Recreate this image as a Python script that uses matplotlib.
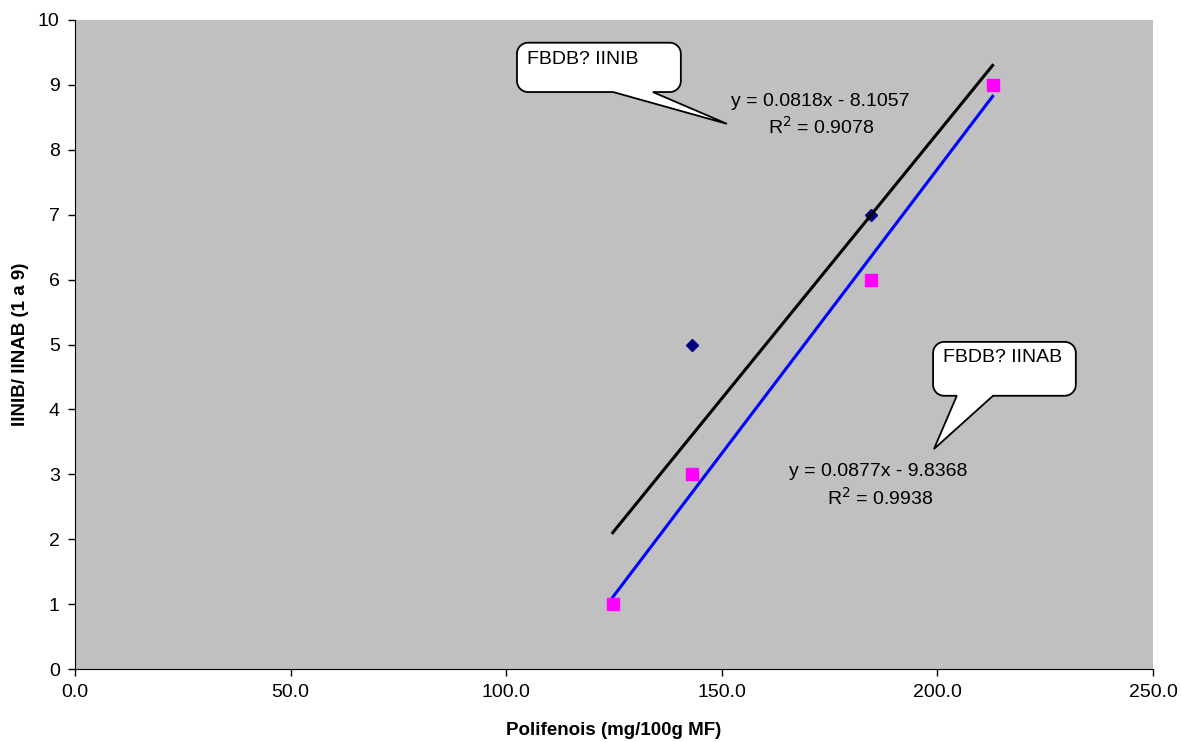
import matplotlib
matplotlib.use("Agg")
import matplotlib.pyplot as plt
import numpy as np
from matplotlib.path import Path
from matplotlib.patches import PathPatch

plt.rcParams['font.family'] = ['Liberation Sans', 'DejaVu Sans']

# data
polifenois = [124.7, 143.2, 184.5, 212.8]
iinib = [1, 5, 7, 9]
iinab = [1, 3, 6, 9]
eq_iinib = "y = 0.0818x - 8.1057"
r2_iinib = "R$^2$ = 0.9078"
eq_iinab = "y = 0.0877x - 9.8368"
r2_iinab = "R$^2$ = 0.9938"
xticks = [0, 50, 100, 150, 200, 250]
yticks = list(range(0, 11))

fig = plt.figure(figsize=(11.81, 7.42), dpi=100)
ax = fig.add_axes([75 / 1181, 1 - 669 / 742, (1153 - 75) / 1181, (669 - 20) / 742])
ax.set_facecolor("#c0c0c0")
ax.set_xlim(0, 250)
ax.set_ylim(0, 10)

# linear trend lines
x = np.array(polifenois)
k1, b1 = np.polyfit(x, iinib, 1)
k2, b2 = np.polyfit(x, iinab, 1)
xl = np.array([x.min(), x.max()])

ax.plot(polifenois, iinib, "D", color="#000080", markersize=6.5, zorder=2)
ax.plot(xl, k1 * xl + b1, color="black", lw=2.2, zorder=3)
ax.plot(xl, k2 * xl + b2, color="#0000ff", lw=2.2, zorder=3)
ax.plot(polifenois, iinab, "s", color="#ff00ff", markersize=8, zorder=4)

ax.text(152.1, 8.75, eq_iinib, fontsize=14, ha="left", va="center")
ax.text(160.7, 8.35, r2_iinib, fontsize=14, ha="left", va="center")
ax.text(165.6, 3.04, eq_iinab, fontsize=14, ha="left", va="center")
ax.text(174.4, 2.63, r2_iinab, fontsize=14, ha="left", va="center")

ax.set_xticks(xticks)
ax.set_xticklabels(["%.1f" % v for v in xticks], fontsize=14)
ax.set_yticks(yticks)
ax.set_yticklabels([str(v) for v in yticks], fontsize=14)
ax.tick_params(direction="out", length=5, width=1, color="black", pad=6)
ax.spines["top"].set_visible(False)
ax.spines["right"].set_visible(False)
ax.set_xlabel("Polifenois (mg/100g MF)", fontsize=13.5, fontweight="bold", va="center")
ax.set_ylabel("IINIB/ IINAB (1 a 9)", fontsize=13.5, fontweight="bold", va="center")
ax.xaxis.set_label_coords(0.5, -0.094)
ax.yaxis.set_label_coords(-0.051, 0.5)


def bubble(x0, x1, y0, y1, b0, b1, tip, label, tx0, ty0, r=11):
    # callout drawn in pixel space, then mapped back to data
    T = ax.transData
    (px0, py0), (px1, py1) = T.transform([(x0, y0), (x1, y1)])
    pb0 = T.transform([(b0, y0)])[0][0]
    pb1 = T.transform([(b1, y0)])[0][0]
    tx, ty = T.transform([tip])[0]
    c = 0.55
    verts = [
        (px0 + r, py0), (pb0, py0), (tx, ty), (pb1, py0), (px1 - r, py0),
        (px1 - r + r * c, py0), (px1, py0 + r - r * c), (px1, py0 + r),
        (px1, py1 - r),
        (px1, py1 - r + r * c), (px1 - r + r * c, py1), (px1 - r, py1),
        (px0 + r, py1),
        (px0 + r - r * c, py1), (px0, py1 - r + r * c), (px0, py1 - r),
        (px0, py0 + r),
        (px0, py0 + r - r * c), (px0 + r - r * c, py0), (px0 + r, py0),
    ]
    codes = [Path.MOVETO, Path.LINETO, Path.LINETO, Path.LINETO, Path.LINETO,
             Path.CURVE4, Path.CURVE4, Path.CURVE4, Path.LINETO,
             Path.CURVE4, Path.CURVE4, Path.CURVE4, Path.LINETO,
             Path.CURVE4, Path.CURVE4, Path.CURVE4, Path.LINETO,
             Path.CURVE4, Path.CURVE4, Path.CURVE4]
    dv = T.inverted().transform(verts)
    patch = PathPatch(Path(dv, codes), facecolor="white", edgecolor="black",
                      lw=1.3, zorder=5)
    ax.add_patch(patch)
    ax.text(tx0, ty0, label, fontsize=14, ha="left", va="baseline", zorder=6)


bubble(102.5, 140.5, 8.89, 9.65, 124.8, 134.0, (151.2, 8.40), "FBDB? IINIB", 104.8, 9.32)
bubble(199.0, 232.1, 4.21, 5.04, 204.5, 212.9, (199.2, 3.39), "FBDB? IINAB", 201.3, 4.73)

fig.savefig("out.png", dpi=100)
